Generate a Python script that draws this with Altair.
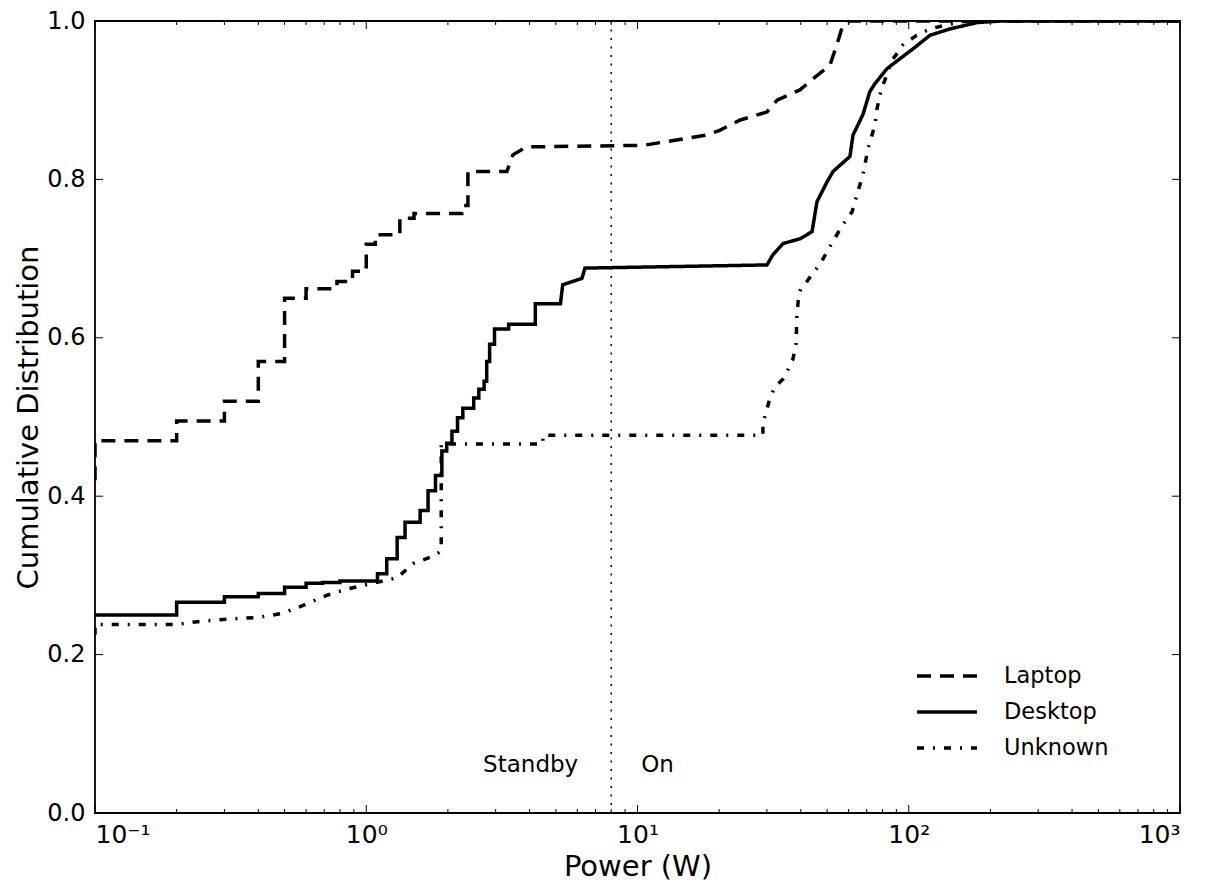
import altair as alt
import pandas as pd

# ---------------- data ----------------
series_names = ["Laptop", "Desktop", "Unknown"]

laptop_w = [0.1, 0.1, 0.2, 0.2, 0.3, 0.3, 0.4, 0.4, 0.5, 0.5, 0.6, 0.6, 0.78, 0.78,
            0.89, 0.89, 1.0, 1.0, 1.08, 1.08, 1.33, 1.33, 1.5, 1.5, 2.25, 2.25,
            2.37, 2.37, 3.3, 3.47, 3.9, 10.5, 18.0, 20.1, 23.9, 30.0, 32.7, 39.7,
            44.4, 51.2, 54.3, 57.2, 60.7, 1000]
laptop_cdf = [0.42, 0.47, 0.47, 0.495, 0.495, 0.52, 0.52, 0.57, 0.57, 0.65, 0.65, 0.662,
              0.662, 0.671, 0.671, 0.684, 0.684, 0.718, 0.718, 0.73, 0.73, 0.751, 0.751,
              0.757, 0.757, 0.767, 0.767, 0.81, 0.81, 0.831, 0.841, 0.843, 0.856, 0.862,
              0.875, 0.885, 0.90, 0.913, 0.927, 0.944, 0.97, 0.995, 1.0, 1.0]

desktop_w = [0.1, 0.2, 0.2, 0.3, 0.3, 0.4, 0.4, 0.5, 0.5, 0.6, 0.6, 0.69, 0.69, 0.8,
             0.8, 1.10, 1.10, 1.19, 1.19, 1.30, 1.30, 1.39, 1.39, 1.58, 1.58, 1.69,
             1.69, 1.80, 1.80, 1.90, 1.90, 1.98, 1.98, 2.07, 2.07, 2.17, 2.17, 2.27,
             2.27, 2.49, 2.49, 2.60, 2.60, 2.72, 2.72, 2.78, 2.78, 2.85, 2.85, 2.97,
             2.97, 3.35, 3.35, 4.2, 4.2, 5.2, 5.3, 6.24, 6.4, 30.0, 31.6, 34.4, 39.7,
             44.0, 45.9, 50.0, 52.6, 60.7, 62.3, 67.8, 71.9, 75.1, 83.2, 103.8, 119.7,
             141.9, 178.6, 220, 1000]
desktop_cdf = [0.25, 0.25, 0.266, 0.266, 0.273, 0.273, 0.277, 0.277, 0.285, 0.285, 0.29,
               0.29, 0.291, 0.291, 0.293, 0.293, 0.302, 0.302, 0.321, 0.321, 0.348, 0.348,
               0.367, 0.367, 0.382, 0.382, 0.407, 0.407, 0.426, 0.426, 0.457, 0.457,
               0.467, 0.467, 0.482, 0.482, 0.499, 0.499, 0.511, 0.511, 0.524, 0.524,
               0.535, 0.535, 0.545, 0.545, 0.57, 0.57, 0.592, 0.592, 0.611, 0.611, 0.617,
               0.617, 0.643, 0.643, 0.667, 0.675, 0.688, 0.692, 0.705, 0.719, 0.725,
               0.734, 0.772, 0.797, 0.81, 0.829, 0.856, 0.882, 0.911, 0.921, 0.940,
               0.965, 0.982, 0.99, 0.998, 1.0, 1.0]

unknown_w = [0.1, 0.1, 0.2, 0.244, 0.315, 0.40, 0.49, 0.594, 0.717, 0.857, 1.30, 1.49,
             1.79, 1.89, 1.89, 4.48, 4.48, 29.0, 29.0, 30.0, 30.8, 32.1, 34.4, 35.9,
             37.4, 38.4, 38.7, 39.1, 39.7, 44.0, 47.1, 52.6, 57.2, 61.8, 65.0, 67.8,
             70.8, 73.2, 75.1, 76.4, 78.3, 80.4, 86.7, 95.3, 107, 119.7, 138, 161, 1000]
unknown_cdf = [0.225, 0.238, 0.238, 0.242, 0.245, 0.247, 0.252, 0.263, 0.275, 0.283,
               0.297, 0.315, 0.325, 0.331, 0.466, 0.466, 0.477, 0.477, 0.492, 0.51, 0.524,
               0.538, 0.548, 0.56, 0.573, 0.592, 0.627, 0.646, 0.659, 0.680, 0.693,
               0.722, 0.743, 0.759, 0.785, 0.806, 0.839, 0.856, 0.869, 0.889, 0.907,
               0.919, 0.95, 0.97, 0.982, 0.99, 0.995, 1.0, 1.0]

threshold_w = [8]
annot_labels = ["Standby", "On"]
annot_cdf = [0.06, 0.06]

x_major = [0.1, 1, 10, 100, 1000]
x_minor = [0.2, 0.3, 0.4, 0.5, 0.6, 0.7, 0.8, 0.9,
           2, 3, 4, 5, 6, 7, 8, 9,
           20, 30, 40, 50, 60, 70, 80, 90,
           200, 300, 400, 500, 600, 700, 800, 900]
y_major = [0.0, 0.2, 0.4, 0.6, 0.8, 1.0]
x_tick_text = ["10⁻¹", "10⁰", "10¹", "10²", "10³"]

# ---------------- tables ----------------
rows = []
for name, ws, cs in [("Laptop", laptop_w, laptop_cdf),
                     ("Desktop", desktop_w, desktop_cdf),
                     ("Unknown", unknown_w, unknown_cdf)]:
    for i, (w, c) in enumerate(zip(ws, cs)):
        rows.append({"series": name, "watts": w, "cdf": c, "order": i})
df = pd.DataFrame(rows)

xmaj_df = pd.DataFrame({"t": x_major})
xmin_df = pd.DataFrame({"t": x_minor})
ymaj_df = pd.DataFrame({"v": y_major})
thr_df = pd.DataFrame({"watts": threshold_w})
standby_df = pd.DataFrame({"watts": threshold_w, "cdf": [annot_cdf[0]], "label": [annot_labels[0]]})
on_df = pd.DataFrame({"watts": threshold_w, "cdf": [annot_cdf[1]], "label": [annot_labels[1]]})

W, H = 1085, 792
FONT = "DejaVu Sans"

xscale = alt.Scale(type="log", domain=[0.1, 1000], nice=False)
yscale = alt.Scale(domain=[0, 1], nice=False)

label_arr = "[" + ",".join("'" + s + "'" for s in x_tick_text) + "]"
x_axis = alt.Axis(values=x_major, labelExpr=label_arr + "[round(log(datum.value)/LN10)+1]",
                  title="Power (W)", labelPadding=9, titlePadding=5, labelFontSize=25)
y_axis = alt.Axis(values=y_major, format=".1f", title="Cumulative Distribution",
                  labelPadding=10, titlePadding=3, labelFontSize=24)

lines = alt.Chart(df).mark_line(color="black", strokeWidth=3.5, clip=True).encode(
    x=alt.X("watts:Q", scale=xscale, axis=x_axis),
    y=alt.Y("cdf:Q", scale=yscale, axis=y_axis),
    strokeDash=alt.StrokeDash(
        "series:N",
        scale=alt.Scale(domain=series_names, range=[[14, 9], [1, 0], [7, 9, 2, 9]]),
        legend=alt.Legend(title=None, orient="none", legendX=840, legendY=643,
                          symbolType="M-3,0H3", symbolSize=400, symbolStrokeWidth=3.5,
                          symbolStrokeColor="black", labelFont=FONT, labelFontSize=22.5,
                          labelColor="black", labelOffset=45, rowPadding=12, padding=0),
    ),
    order="order:Q",
)

thr = alt.Chart(thr_df).mark_rule(color="black", strokeWidth=1.5, strokeDash=[2, 6.5]).encode(
    x=alt.X("watts:Q", scale=xscale, axis=x_axis)
)

standby = alt.Chart(standby_df).mark_text(font=FONT, fontSize=23, align="right", dx=-33,
                                           baseline="middle", color="black").encode(
    x=alt.X("watts:Q", scale=xscale, axis=x_axis),
    y=alt.Y("cdf:Q", scale=yscale, axis=y_axis),
    text="label:N",
)
on = alt.Chart(on_df).mark_text(font=FONT, fontSize=23, align="left", dx=30,
                                 baseline="middle", color="black").encode(
    x=alt.X("watts:Q", scale=xscale, axis=x_axis),
    y=alt.Y("cdf:Q", scale=yscale, axis=y_axis),
    text="label:N",
)


def xticks(data, length):
    bottom = alt.Chart(data).mark_rule(color="black", strokeWidth=1).encode(
        x=alt.X("t:Q", scale=xscale, axis=x_axis), y=alt.value(H), y2=alt.value(H - length))
    top = alt.Chart(data).mark_rule(color="black", strokeWidth=1).encode(
        x=alt.X("t:Q", scale=xscale, axis=x_axis), y=alt.value(0), y2=alt.value(length))
    return [bottom, top]


yt_left = alt.Chart(ymaj_df).mark_rule(color="black", strokeWidth=1).encode(
    y=alt.Y("v:Q", scale=yscale, axis=y_axis), x=alt.value(0), x2=alt.value(8))
yt_right = alt.Chart(ymaj_df).mark_rule(color="black", strokeWidth=1).encode(
    y=alt.Y("v:Q", scale=yscale, axis=y_axis), x=alt.value(W), x2=alt.value(W - 8))

chart = alt.layer(
    thr, *xticks(xmaj_df, 8), *xticks(xmin_df, 4), yt_left, yt_right, lines, standby, on
).properties(
    width=W, height=H,
    autosize=alt.AutoSizeParams(type="none"),
    padding={"left": 87, "top": 13, "right": 19, "bottom": 70},
).configure_view(
    stroke="black", strokeWidth=1.8
).configure_axis(
    labelFont=FONT, titleFont=FONT, titleFontSize=29,
    labelColor="black", titleColor="black", titleFontWeight="normal",
    grid=False, ticks=False, domain=False,
)

chart.save("out.html", embed_options={"renderer": "svg", "actions": False})
